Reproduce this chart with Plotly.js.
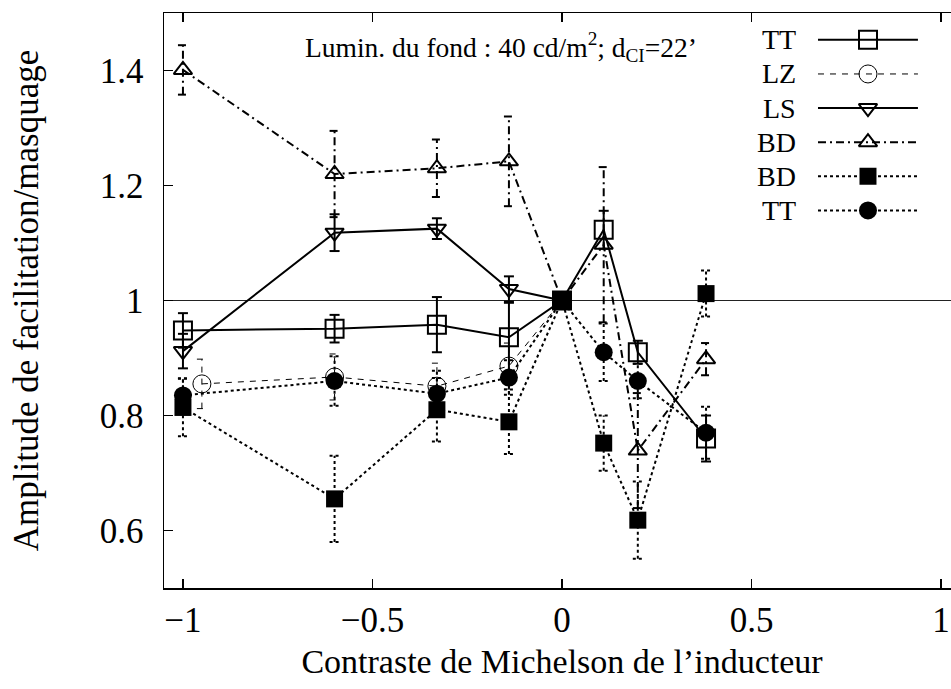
<!DOCTYPE html>
<html>
<head>
<meta charset="utf-8">
<script src="https://cdn.plot.ly/plotly-3.0.1.min.js"></script>
<style>
html,body{margin:0;padding:0;overflow:hidden;background:#fff;}
#chart{width:980px;height:689px;}
</style>
</head>
<body>
<div id="chart"></div>
<script>
// ---- data ----
const seriesNames = ['TT', 'LZ', 'LS', 'BD', 'BD', 'TT'];

const xTTsq = [-1, -0.6, -0.33, -0.14, 0, 0.11, 0.2, 0.38];
const yTTsq = [0.948, 0.951, 0.958, 0.936, 1.0, 1.123, 0.91, 0.76];
const eTTsq = [0.03, 0.024, 0.048, 0.06, 0, 0.033, 0.02, 0.04];

const xLZ = [-0.95, -0.6, -0.33, -0.14, 0];
const yLZ = [0.855, 0.867, 0.851, 0.886, 1.0];
const eLZ = [0.043, 0.04, 0.04, 0.04, 0];

const xLS = [-1, -0.6, -0.33, -0.14, 0];
const yLS = [0.912, 1.118, 1.125, 1.02, 1.0];
const eLS = [0.03, 0.032, 0.018, 0.022, 0];

const xBDtri = [-1, -0.6, -0.33, -0.14, 0, 0.11, 0.2, 0.38];
const yBDtri = [1.401, 1.22, 1.23, 1.242, 1.0, 1.097, 0.739, 0.898];
const eBDtri = [0.043, 0.075, 0.05, 0.078, 0, 0.135, 0.1, 0.028];

const xBDsq = [-1, -0.6, -0.33, -0.14, 0, 0.11, 0.2, 0.38];
const yBDsq = [0.814, 0.655, 0.81, 0.789, 1.0, 0.752, 0.618, 1.012];
const eBDsq = [0.05, 0.075, 0.055, 0.056, 0, 0.048, 0.067, 0.04];

const xTTci = [-1, -0.6, -0.33, -0.14, 0, 0.11, 0.2, 0.38];
const yTTci = [0.835, 0.86, 0.838, 0.866, 1.0, 0.91, 0.86, 0.77];
const eTTci = [0.03, 0.043, 0.04, 0.03, 0, 0.05, 0.03, 0.045];

const xTickStep = 0.5;
const yTickStep = 0.2;
const annoText = 'Lumin. du fond : 40 cd/m<sup>2</sup>; d<sub>CI</sub>=22’';
const xTitle = 'Contraste de Michelson de l’inducteur';
const yTitle = 'Amplitude de facilitation/masquage';

// ---- styles ----
const FONT = 'Liberation Serif, Times New Roman, serif';
const W = 980, H = 689;
const M = {l: 164, r: 20, t: 13, b: 101};
const xRange = [-1.05, 1.05];
const yRange = [0.5, 1.5];
const capHalf = 5 * (xRange[1] - xRange[0]) / (W - M.l - M.r);

const styles = [
  {x: xTTsq, y: yTTsq, e: eTTsq, dash: 'solid', lw: 2, sym: 'square-open', size: 18, mlw: 2},
  {x: xLZ, y: yLZ, e: eLZ, dash: '6px,6px', lw: 1, sym: 'circle-open', size: 18, mlw: 1},
  {x: xLS, y: yLS, e: eLS, dash: 'solid', lw: 2, sym: 'triangle-down-open', size: 16, mlw: 2},
  {x: xBDtri, y: yBDtri, e: eBDtri, dash: '8px,4px,2px,4px', lw: 2, sym: 'triangle-up-open', size: 16, mlw: 2},
  {x: xBDsq, y: yBDsq, e: eBDsq, dash: '3px,3px', lw: 2, sym: 'square', size: 17, mlw: 0},
  {x: xTTci, y: yTTci, e: eTTci, dash: '3px,3px', lw: 2, sym: 'circle', size: 18, mlw: 0}
];

function errTrace(s) {
  const ex = [], ey = [];
  for (let i = 0; i < s.x.length; i++) {
    if (!s.e[i]) continue;
    const x = s.x[i], lo = s.y[i] - s.e[i], hi = s.y[i] + s.e[i];
    ex.push(x, x, null, x - capHalf, x + capHalf, null, x - capHalf, x + capHalf, null);
    ey.push(lo, hi, null, lo, lo, null, hi, hi, null);
  }
  return {x: ex, y: ey, mode: 'lines', type: 'scatter', hoverinfo: 'skip', showlegend: false,
    line: {color: '#000', width: s.lw === 1 ? 1 : 2, dash: s.dash}};
}

const traces = [];
styles.forEach(s => {
  traces.push(errTrace(s));
  traces.push({
    x: s.x, y: s.y, mode: 'lines+markers', type: 'scatter', showlegend: false,
    line: {color: '#000', width: s.lw, dash: s.dash},
    marker: {symbol: s.sym, size: s.size, color: '#000', line: {color: '#000', width: s.mlw}}
  });
});

// legend built on an overlay axis pair (labels at x<0, sample line from 0 to 1)
const annotations = [{
  text: annoText, xref: 'paper', yref: 'paper', x: 0.4234, y: 0.941,
  xanchor: 'center', yanchor: 'middle', showarrow: false,
  font: {family: FONT, size: 27.5, color: '#000'}
}];
styles.forEach((s, i) => {
  traces.push({x: [0, 1], y: [i, i], xaxis: 'x2', yaxis: 'y2', mode: 'lines', type: 'scatter',
    showlegend: false, hoverinfo: 'skip', line: {color: '#000', width: s.lw, dash: s.dash}});
  traces.push({x: [0.5], y: [i], xaxis: 'x2', yaxis: 'y2', mode: 'markers', type: 'scatter',
    showlegend: false, hoverinfo: 'skip',
    marker: {symbol: s.sym, size: s.size, color: '#000', line: {color: '#000', width: s.mlw}}});
  annotations.push({text: seriesNames[i], xref: 'x2', yref: 'y2', x: -0.2, y: i,
    xanchor: 'right', yanchor: 'middle', showarrow: false,
    font: {family: FONT, size: 28, color: '#000'}});
});

const axisCommon = {
  showline: true, linecolor: '#000', linewidth: 1.5, mirror: 'ticks',
  ticks: 'inside', ticklen: 9, tickwidth: 1.5, tickcolor: '#000',
  showgrid: false, zeroline: false,
  tickfont: {family: FONT, size: 35, color: '#000'}
};

const layout = {
  width: W, height: H, margin: M,
  paper_bgcolor: '#fff', plot_bgcolor: '#fff',
  xaxis: Object.assign({}, axisCommon, {
    range: xRange, tick0: 0, dtick: xTickStep,
    title: {text: xTitle, font: {family: FONT, size: 34, color: '#000'}, standoff: 10}
  }),
  yaxis: Object.assign({}, axisCommon, {
    range: yRange, tick0: 0.6, dtick: yTickStep, ticklabelstandoff: 12,
    title: {text: yTitle, font: {family: FONT, size: 35, color: '#000'}, standoff: 50}
  }),
  xaxis2: {domain: [0.7588, 0.9472], range: [-0.5, 1], visible: false, anchor: 'y2', fixedrange: true},
  yaxis2: {domain: [0.627, 0.983], range: [5.5, -0.5], visible: false, anchor: 'x2', fixedrange: true},
  shapes: [{type: 'line', xref: 'paper', yref: 'y', x0: 0, x1: 1, y0: 1, y1: 1,
    line: {color: '#222', width: 1}, layer: 'below'}],
  annotations: annotations
};

Plotly.newPlot('chart', traces, layout, {staticPlot: true, displayModeBar: false});
</script>
</body>
</html>
